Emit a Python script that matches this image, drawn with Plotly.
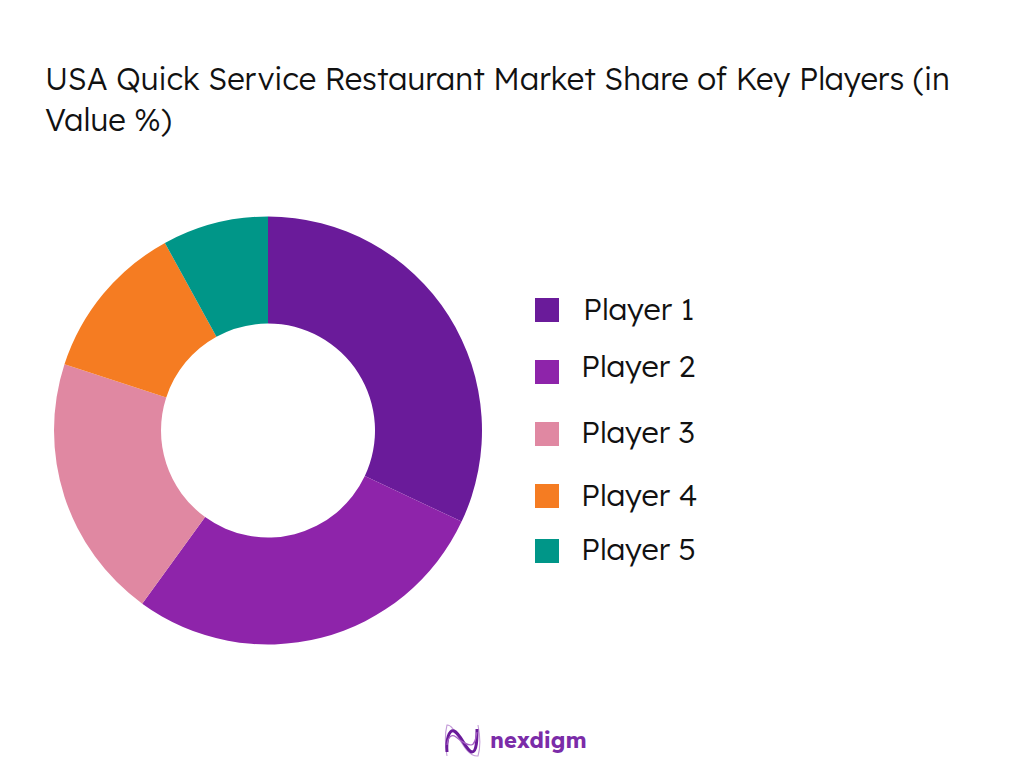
import plotly.graph_objects as go

players = ["Player 1", "Player 2", "Player 3", "Player 4", "Player 5"]
shares = [32, 28, 20, 12, 8]
colors = ["#6A1B9A", "#8E24AA", "#E088A2", "#F57C22", "#009688"]
title_lines = ["USA Quick Service Restaurant Market Share of Key Players (in", "Value %)"]
title_y = [78, 119]
legend_y = [309, 366, 431, 494, 548]
legend_x = [581, 579, 579, 579, 579]
box_y = [310, 372, 434, 496, 551]
box_x = 547

W, H = 1024, 768
OFFSET = 8  # the page body margin pushes the figure down and right
FONT = "Lexend, Inter, Noto Sans, sans-serif"
INK = "#111111"


def px(x):
    return (x - OFFSET) / W


def py(y):
    return 1 - (y - OFFSET) / H


def curve(*pts):
    # pts are pixel pairs: a start point then cubic bezier triples
    out = f"M {px(pts[0][0])} {py(pts[0][1])}"
    for i in range(1, len(pts), 3):
        out += " C " + " ".join(f"{px(p[0])} {py(p[1])}" for p in pts[i:i + 3])
    return out


fig = go.Figure(go.Pie(
    labels=players,
    values=shares,
    hole=0.5,
    sort=False,
    direction="clockwise",
    rotation=0,
    marker=dict(colors=colors),
    textinfo="none",
    hoverinfo="label+percent",
    showlegend=False,
    domain=dict(x=[px(54), px(482)], y=[py(645), py(216)]),
))

shapes = []
annotations = []
for line, ty in zip(title_lines, title_y):
    annotations.append(dict(
        text=line, xref="paper", yref="paper", x=px(43), y=py(ty),
        xanchor="left", yanchor="middle", align="left", showarrow=False,
        font=dict(family=FONT, size=31, weight=300, color=INK),
    ))
for name, color, tx, ty, by in zip(players, colors, legend_x, legend_y, box_y):
    shapes.append(dict(
        type="rect", xref="paper", yref="paper", line_width=0, fillcolor=color,
        x0=px(box_x - 12), x1=px(box_x + 12),
        y0=py(by + 12), y1=py(by - 12),
    ))
    annotations.append(dict(
        text=name, xref="paper", yref="paper", x=px(tx), y=py(ty),
        xanchor="left", yanchor="middle", showarrow=False,
        font=dict(family=FONT, size=30.5, weight=300, color=INK),
    ))

# logo mark and wordmark
logo_lines = [
    (curve((447, 756), (445, 745), (445, 733), (447, 725), (456, 724), (463, 757), (478, 756), (481, 746), (480, 735), (478, 725)), "#C39BD8", 1.1),
    (curve((447, 752), (446, 740), (449, 729), (454, 731), (461, 734), (466, 751), (472, 752), (477, 752), (477, 738), (477, 729)), "#6A1B9A", 3),
    (curve((447, 745), (448, 736), (452, 734), (456, 737), (462, 742), (467, 745), (471, 745), (475, 745), (476, 738), (477, 732)), "#A55FC4", 1.2),
]
for path, color, width in logo_lines:
    shapes.append(dict(type="path", xref="paper", yref="paper", path=path,
                       line=dict(color=color, width=width)))
annotations.append(dict(
    text="<b>nexdigm</b>", xref="paper", yref="paper", x=px(488), y=py(740),
    xanchor="left", yanchor="middle", showarrow=False,
    font=dict(family=FONT, size=22, color="#7B2CA8"),
))

fig.update_layout(
    width=W, height=H, margin=dict(l=0, r=0, t=0, b=0),
    paper_bgcolor="white", shapes=shapes, annotations=annotations,
)
fig.write_html("out.html")
